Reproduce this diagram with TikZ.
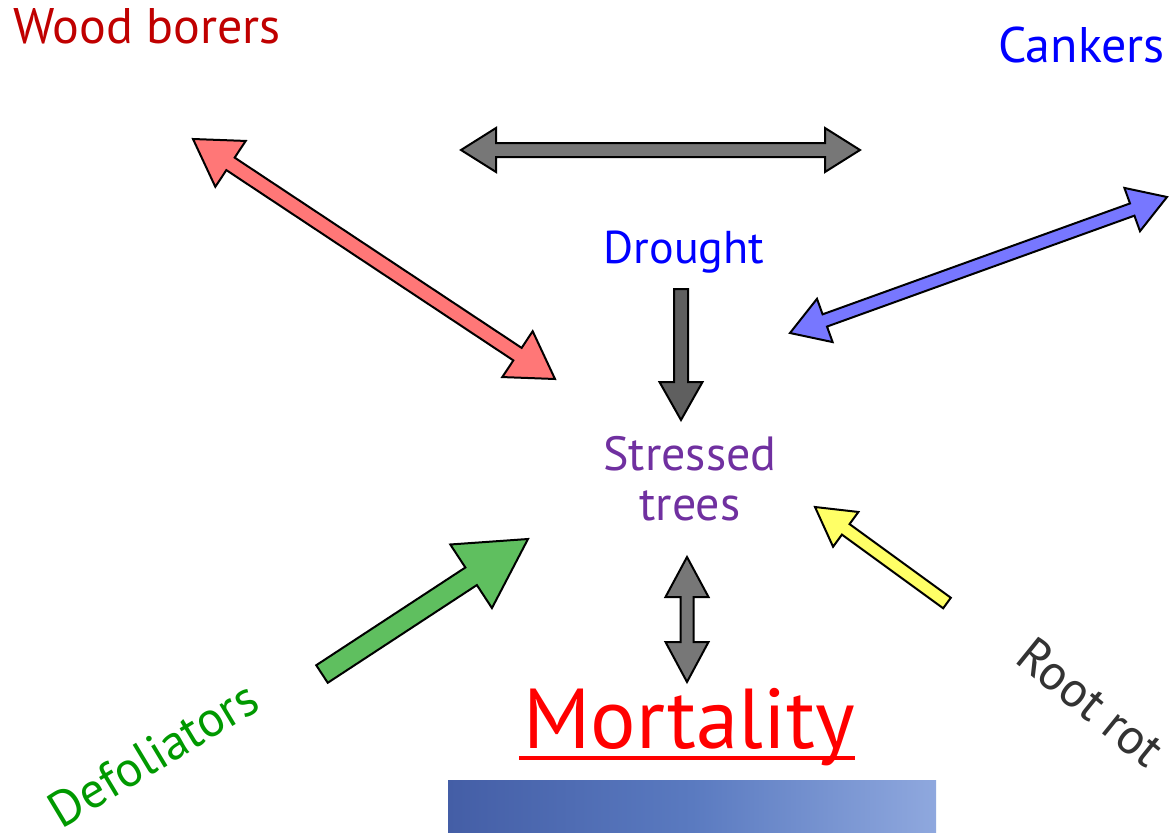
\documentclass[tikz,border=0pt]{standalone}
\usepackage{fontspec}
\setmainfont{PT Sans}
\usetikzlibrary{calc}
\definecolor{woodred}{RGB}{192,0,0}
\definecolor{cankblue}{RGB}{0,0,255}
\definecolor{stresspurple}{RGB}{112,48,160}
\definecolor{defgreen}{RGB}{0,153,0}
\definecolor{rootgray}{RGB}{51,51,51}
\definecolor{arrgray}{RGB}{119,119,119}
\definecolor{arrdark}{RGB}{95,95,95}
\definecolor{arrred}{RGB}{255,119,119}
\definecolor{arrblue}{RGB}{119,119,255}
\definecolor{arrgreen}{RGB}{95,191,95}
\definecolor{arryellow}{RGB}{255,255,102}
\definecolor{gradL}{RGB}{68,94,166}
\definecolor{gradM}{RGB}{90,122,192}
\definecolor{gradR}{RGB}{143,168,222}
% #1 style, #2 tail, #3 tip, #4 half shaft, #5 half head, #6 head length
\newcommand\singlearrow[6]{%
  \coordinate (#3h) at ($(#3)!#6!(#2)$);
  \draw[#1] ($(#2)!#4!90:(#3)$) -- ($(#3h)!#4!90:(#3)$) -- ($(#3h)!#5!90:(#3)$) -- (#3)
    -- ($(#3h)!#5!-90:(#3)$) -- ($(#3h)!#4!-90:(#3)$) -- ($(#2)!#4!-90:(#3)$) -- cycle;
}
% #1 style, #2 end A, #3 end B, #4 half shaft, #5 half head, #6 head length
\newcommand\doublearrow[6]{%
  \coordinate (#2h) at ($(#2)!#6!(#3)$);
  \coordinate (#3h) at ($(#3)!#6!(#2)$);
  \draw[#1] (#2) -- ($(#2h)!#5!90:(#3)$) -- ($(#2h)!#4!90:(#3)$) -- ($(#3h)!#4!90:(#3)$)
    -- ($(#3h)!#5!90:(#3)$) -- (#3) -- ($(#3h)!#5!-90:(#3)$) -- ($(#3h)!#4!-90:(#3)$)
    -- ($(#2h)!#4!-90:(#3)$) -- ($(#2h)!#5!-90:(#3)$) -- cycle;
}
\tikzset{
  blockarr/.style={draw=black, line width=2pt, line join=miter, fill=#1},
  lbl/.style={inner sep=0pt, font=\fontsize{#1}{50}\selectfont},
  lbl/.default=46
}
\begin{document}
\begin{tikzpicture}[x=1pt, y=-1pt]
\fill[white] (0,0) rectangle (1171,833);
\useasboundingbox (0,0) rectangle (1171,833);

% labels
\node[lbl=50, text=woodred, anchor=base west] (wood) at (13,43) {Wood borers};
\node[lbl=50, text=cankblue, anchor=base east] (cank) at (1165,62) {Cankers};
\node[lbl=46, text=cankblue, anchor=base] (drought) at (684,263) {Drought};
\node[lbl=48, text=stresspurple, align=center, anchor=base] (stress) at (690,520) {Stressed\\trees};
\node[inner sep=0pt, text=red, font=\fontsize{85}{90}\selectfont, anchor=base] (mort) at (689,748) {Mortality};
\draw[red, line width=4pt] ($(mort.base west)+(-4,10)$) -- ($(mort.base east)+(0,10)$);
\node[lbl=50, text=defgreen, rotate=31] (defol) at (153,754) {Defoliators};
\node[lbl=50, text=rootgray, rotate=-39] (root) at (1091,702) {Root rot};

% gradient bar
\shade[left color=gradL, right color=gradR, middle color=gradM] (448,780) rectangle (936,833);

% arrow end points
\coordinate (topL) at (461,150);
\coordinate (topR) at (860,150);
\coordinate (redA) at (193,139);
\coordinate (redB) at (555,379);
\coordinate (bluA) at (790,333);
\coordinate (bluB) at (1167,197);
\coordinate (drT) at (681,289);
\coordinate (drP) at (681,420);
\coordinate (moA) at (687,557);
\coordinate (moB) at (687,682);
\coordinate (grT) at (322,674);
\coordinate (grP) at (528,539);
\coordinate (yeT) at (947,603);
\coordinate (yeP) at (815,507);

\doublearrow{blockarr=arrgray}{topL}{topR}{7pt}{22pt}{35pt}
\doublearrow{blockarr=arrred}{redA}{redB}{7.5pt}{27.5pt}{45pt}
\doublearrow{blockarr=arrblue}{bluA}{bluB}{6.5pt}{23pt}{37pt}
\singlearrow{blockarr=arrdark}{drT}{drP}{7pt}{21.5pt}{38pt}
\doublearrow{blockarr=arrgray}{moA}{moB}{6.5pt}{21.5pt}{40pt}
\singlearrow{blockarr=arrgreen}{grT}{grP}{10.5pt}{38pt}{68pt}
\singlearrow{blockarr=arryellow}{yeT}{yeP}{6.5pt}{21.5pt}{38pt}
\end{tikzpicture}
\end{document}
